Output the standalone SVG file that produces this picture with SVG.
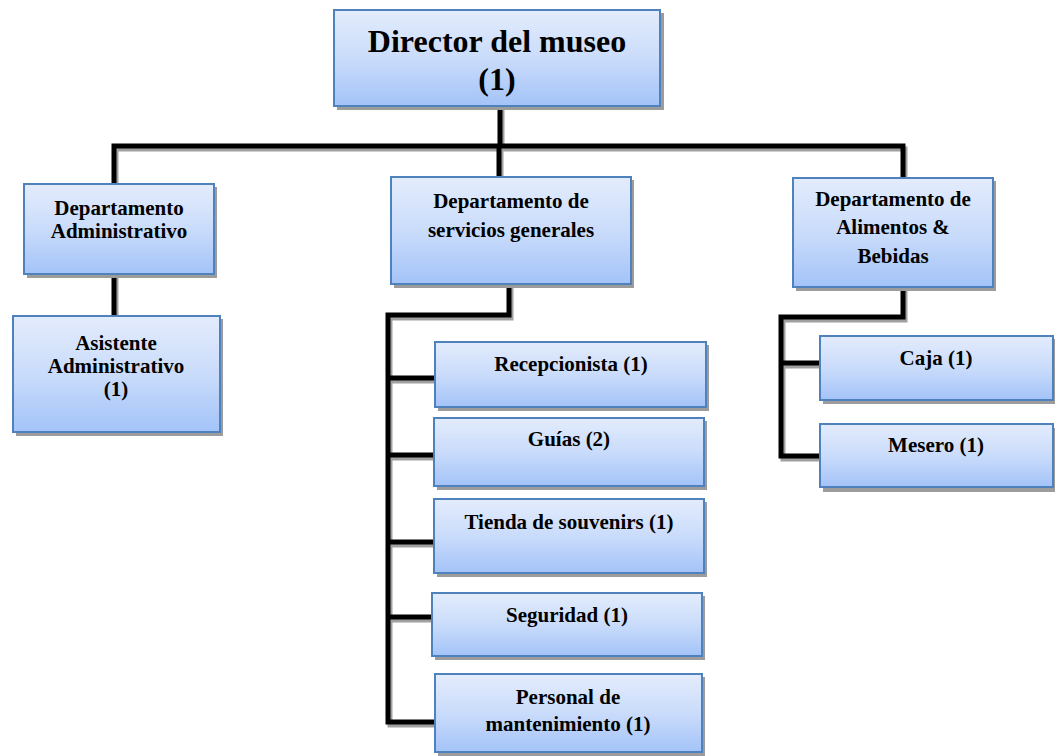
<svg xmlns="http://www.w3.org/2000/svg" width="1055" height="756" viewBox="0 0 1055 756">
<defs>
<linearGradient id="g" x1="0" y1="0" x2="0" y2="1">
<stop offset="0" stop-color="#e3ecfc"/>
<stop offset="0.5" stop-color="#cadcfb"/>
<stop offset="1" stop-color="#a3c3f8"/>
</linearGradient>
</defs>
<style>
.box{fill:url(#g);stroke:#4f81bd;stroke-width:2}
.sh{fill:#9c9c9c}
text{font-family:'Liberation Serif','Times New Roman',serif;font-weight:bold;font-size:21px;fill:#000;text-anchor:middle}
text.big{font-size:32px}
.ln{fill:none;stroke:#000;stroke-width:5;stroke-linejoin:miter;stroke-linecap:square}
.lns{fill:none;stroke:#a0a0a0;stroke-width:5;stroke-linejoin:miter;stroke-linecap:square}
</style>
<rect width="1055" height="756" fill="#fff"/>
<g id="connectors">
<g transform="translate(2,3)">
<path class="lns" d="M500 108V146M114 181V146H903V177M499 146V176M114 276V314"/>
<path class="lns" d="M509 286V315H388V722H434M388 378H434M388 455H434M388 542H434M388 617H432"/>
<path class="lns" d="M903 289V317H781V456H820M781 363H820"/>
</g>
<path class="ln" d="M500 108V146M114 181V146H903V177M499 146V176M114 276V314"/>
<path class="ln" d="M509 286V315H388V722H434M388 378H434M388 455H434M388 542H434M388 617H432"/>
<path class="ln" d="M903 289V317H781V456H820M781 363H820"/>
</g>
<g id="director">
<rect class="sh" x="337" y="13" width="327" height="97"/>
<rect class="box" x="334" y="10" width="326" height="96"/>
<text class="big" x="497" y="52">Director del museo</text>
<text class="big" x="497" y="90">(1)</text>
</g>
<g id="dept-admin">
<rect class="sh" x="27" y="187" width="190" height="91"/>
<rect class="box" x="24" y="184" width="190" height="90"/>
<text x="119" y="215">Departamento</text>
<text x="119" y="238">Administrativo</text>
</g>
<g id="asistente">
<rect class="sh" x="16" y="319" width="207" height="117"/>
<rect class="box" x="13" y="316" width="207" height="116"/>
<text x="116" y="350">Asistente</text>
<text x="116" y="373">Administrativo</text>
<text x="116" y="396">(1)</text>
</g>
<g id="dept-servicios">
<rect class="sh" x="394" y="180" width="240" height="108"/>
<rect class="box" x="391" y="177" width="240" height="107"/>
<text x="511" y="208">Departamento de</text>
<text x="511" y="237">servicios generales</text>
</g>
<g id="dept-alimentos">
<rect class="sh" x="796" y="181" width="200" height="110"/>
<rect class="box" x="793" y="178" width="200" height="109"/>
<text x="893" y="206">Departamento de</text>
<text x="893" y="234">Alimentos &amp;</text>
<text x="893" y="263">Bebidas</text>
</g>
<g id="recepcionista">
<rect class="sh" x="438" y="345" width="271" height="66"/>
<rect class="box" x="435" y="342" width="271" height="65"/>
<text x="571" y="371">Recepcionista (1)</text>
</g>
<g id="guias">
<rect class="sh" x="437" y="421" width="270" height="69"/>
<rect class="box" x="434" y="418" width="270" height="68"/>
<text x="569" y="446">Guías (2)</text>
</g>
<g id="tienda">
<rect class="sh" x="437" y="502" width="270" height="75"/>
<rect class="box" x="434" y="499" width="270" height="74"/>
<text x="569" y="529">Tienda de souvenirs (1)</text>
</g>
<g id="seguridad">
<rect class="sh" x="435" y="596" width="270" height="64"/>
<rect class="box" x="432" y="593" width="270" height="63"/>
<text x="567" y="622">Seguridad (1)</text>
</g>
<g id="personal">
<rect class="sh" x="438" y="677" width="267" height="82"/>
<rect class="box" x="435" y="674" width="267" height="78"/>
<text x="568" y="704">Personal de</text>
<text x="568" y="731">mantenimiento (1)</text>
</g>
<g id="caja">
<rect class="sh" x="823" y="339" width="235" height="65"/>
<rect class="box" x="820" y="336" width="233" height="64"/>
<text x="936" y="365">Caja (1)</text>
</g>
<g id="mesero">
<rect class="sh" x="823" y="428" width="235" height="64"/>
<rect class="box" x="820" y="424" width="233" height="63"/>
<text x="936" y="452">Mesero (1)</text>
</g>
</svg>
